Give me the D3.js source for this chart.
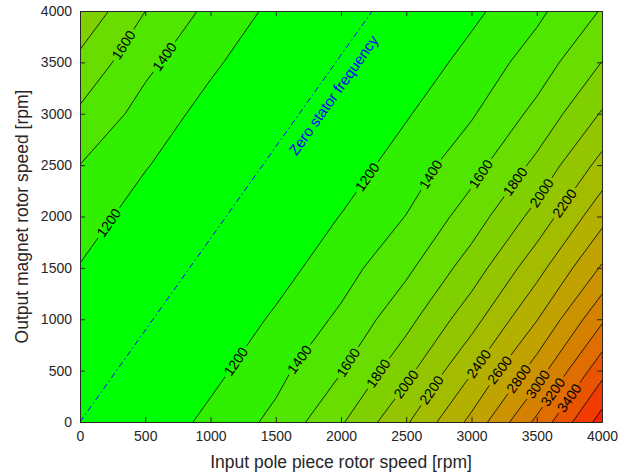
<!DOCTYPE html>
<html><head><meta charset="utf-8">
<script src="https://cdn.jsdelivr.net/npm/d3@7"></script>
<style>
body{margin:0;background:#fff}
svg{display:block}
text{font-family:"Liberation Sans",Arial,Helvetica,sans-serif}
</style>
</head><body>
<svg id="c" width="629" height="475"></svg>
<script>
// ---- data ----
const xTicks = [0,500,1000,1500,2000,2500,3000,3500,4000];
const yTicks = [0,500,1000,1500,2000,2500,3000,3500,4000];
const xGrid = [0,500,1000,1500,2000,2500,3000,3500,4000];
const yGrid = [0,500,1000,1500,2000,2500,3000,3500,4000];
// rows: y = 0 ... 4000 ; columns: x = 0 ... 4000
const zRow0 = [ 990,1055,1253,1450,1776,2174,2653,3246,3890];
const zRow1 = [1017,1009,1142,1341,1589,1940,2381,2897,3533];
const zRow2 = [1079, 995,1045,1230,1438,1736,2122,2590,3167];
const zRow3 = [1190,1027,1004,1119,1317,1557,1894,2324,2824];
const zRow4 = [1301,1103,1001,1034,1206,1405,1695,2070,2533];
const zRow5 = [1398,1214,1038, 999,1095,1293,1524,1849,2267];
const zRow6 = [1568,1325,1126,1006,1024,1182,1380,1654,2017];
const zRow7 = [1749,1449,1238,1048, 994,1071,1269,1492,1804];
const zRow8 = [1955,1601,1349,1150,1011,1014,1154,1356,1614];
const levels = [1200,1400,1600,1800,2000,2200,2400,2600,2800,3000,3200,3400,3600,3800];
const bandColors = ["#00ff00","#30f000","#50e600","#69dc00","#80d000","#93c600","#a4bc00",
  "#b3b000","#c0a300","#cb9300","#d58100","#df6d00","#e95400","#f23b00","#fa2000"];
const labelLevels = [1600,1400,1200, 1200,1400,1600,1800,2000,2200, 1200,1400,1600,1800,2000,2200,2400,2600,2800,3000,3200,3400];
const labelX = [344,637,230, 2205,2702,3072,3327,3531,3722, 1185,1695,2052,2294,2498,2702,3059,3225,3365,3505,3646,3760];
const labelY = [3662,3565,1930, 2381,2397,2414,2348,2236,2122, 597,597,581,467,370,305,564,499,418,370,273,224];
const zeroLineX = [0,2240];
const zeroLineY = [0,4000];
const zeroLabel = "Zero stator frequency";
const zeroLabelX = 1975, zeroLabelY = 3150;
const xTitle = "Input pole piece rotor speed [rpm]";
const yTitle = "Output magnet rotor speed [rpm]";

// ---- drawing ----
const W = 629, H = 475;
const svg = d3.select("#c");
const xs = d3.scaleLinear().domain([xTicks[0], xTicks[xTicks.length-1]]).range([80, 602]);
const ys = d3.scaleLinear().domain([yTicks[0], yTicks[yTicks.length-1]]).range([422, 11]);
const values = [zRow0,zRow1,zRow2,zRow3,zRow4,zRow5,zRow6,zRow7,zRow8].flat();
const nx = xGrid.length, ny = yGrid.length;
const stepX = xGrid[1]-xGrid[0], stepY = yGrid[1]-yGrid[0];
const toPx = (cx, cy) => [xs(xGrid[0] + (cx-0.5)*stepX), ys(yGrid[0] + (cy-0.5)*stepY)];
const path = d3.geoPath(d3.geoTransform({point(x, y){ const p = toPx(x, y); this.stream.point(p[0], p[1]); }}));
const contours = d3.contours().size([nx, ny]).thresholds(levels)(values);

const defs = svg.append("defs");
const px0 = xs.range()[0]+0.5, px1 = xs.range()[1]+0.5, py0 = ys.range()[1]+0.5, py1 = ys.range()[0]+0.5;
defs.append("clipPath").attr("id","plotclip").append("rect")
  .attr("x", px0).attr("y", py0).attr("width", px1-px0).attr("height", py1-py0);
const mask = defs.append("mask").attr("id","lblmask").attr("maskUnits","userSpaceOnUse")
  .attr("x",0).attr("y",0).attr("width",W).attr("height",H);
mask.append("rect").attr("width",W).attr("height",H).attr("fill","white");

const plot = svg.append("g").attr("clip-path","url(#plotclip)");
plot.append("rect").attr("x",px0).attr("y",py0).attr("width",px1-px0).attr("height",py1-py0).attr("fill",bandColors[0]);
plot.append("g").selectAll("path").data(contours).join("path")
  .attr("d", path).attr("fill", (d,i) => bandColors[i+1]).attr("stroke","none");
plot.append("g").attr("mask","url(#lblmask)").selectAll("path").data(contours).join("path")
  .attr("d", path).attr("fill","none").attr("stroke","#000").attr("stroke-width",0.8);

// zero stator frequency line
plot.append("line")
  .attr("x1", xs(zeroLineX[0])).attr("y1", ys(zeroLineY[0]))
  .attr("x2", xs(zeroLineX[1])).attr("y2", ys(zeroLineY[1]))
  .attr("stroke","#0000ff").attr("stroke-width",1).attr("stroke-dasharray","6,3,1.5,3");
const zAng = Math.atan2(ys(zeroLineY[1])-ys(zeroLineY[0]), xs(zeroLineX[1])-xs(zeroLineX[0]))*180/Math.PI;
svg.append("text").text(zeroLabel)
  .attr("transform", `translate(${xs(zeroLabelX)},${ys(zeroLabelY)}) rotate(${zAng})`)
  .attr("text-anchor","middle").attr("font-size",15).attr("fill","#0000ff");

// contour labels
const inside = p => p[0] >= px0-0.5 && p[0] <= px1+0.5 && p[1] >= py0-0.5 && p[1] <= py1+0.5;
const lblG = svg.append("g");
labelLevels.forEach((lv, k) => {
  const ci = levels.indexOf(lv);
  const target = [xs(labelX[k]), ys(labelY[k])];
  let best = null;
  contours[ci].coordinates.forEach(poly => poly.forEach(ring => {
    const pts = ring.map(([cx, cy]) => toPx(cx, cy));
    for (let s = 0; s < pts.length-1; s++) {
      const a = pts[s], b = pts[s+1];
      if (!inside(a) || !inside(b)) continue;
      const vx = b[0]-a[0], vy = b[1]-a[1], L2 = vx*vx+vy*vy;
      if (L2 === 0) continue;
      let t = ((target[0]-a[0])*vx + (target[1]-a[1])*vy)/L2;
      t = Math.max(0, Math.min(1, t));
      const p = [a[0]+t*vx, a[1]+t*vy];
      const dd = (p[0]-target[0])**2 + (p[1]-target[1])**2;
      if (!best || dd < best.dd) best = {dd, p, ang: Math.atan2(vy, vx)*180/Math.PI};
    }
  }));
  if (!best) return;
  let ang = best.ang;
  if (ang > 90) ang -= 180;
  if (ang < -90) ang += 180;
  const tr = `translate(${best.p[0]},${best.p[1]}) rotate(${ang})`;
  const t = lblG.append("text").text(lv).attr("transform", tr)
    .attr("text-anchor","middle").attr("dy","0.35em").attr("font-size",14).attr("fill","#000");
  const len = t.node().getComputedTextLength();
  mask.append("rect").attr("transform", tr)
    .attr("x", -len/2-3).attr("y", -7.5).attr("width", len+6).attr("height", 15).attr("fill","black");
});

// axes
const axisColor = "#262626";
const fmt = d3.format("d");
function styleAxis(g){
  g.attr("font-size",14).attr("font-family","Liberation Sans, Arial, sans-serif").attr("color",axisColor);
  g.selectAll("path,line").attr("stroke",axisColor).attr("stroke-width",1);
}
svg.append("g").attr("transform",`translate(0,${ys.range()[0]})`)
  .call(d3.axisBottom(xs).tickValues(xTicks).tickFormat(fmt).tickSizeInner(-5).tickSizeOuter(0).tickPadding(9)).call(styleAxis);
svg.append("g").attr("transform",`translate(0,${ys.range()[1]})`)
  .call(d3.axisTop(xs).tickValues(xTicks).tickSizeInner(-5).tickSizeOuter(0).tickFormat(() => "")).call(styleAxis);
svg.append("g").attr("transform",`translate(${xs.range()[0]},0)`)
  .call(d3.axisLeft(ys).tickValues(yTicks).tickFormat(fmt).tickSizeInner(-5).tickSizeOuter(0).tickPadding(8)).call(styleAxis);
svg.append("g").attr("transform",`translate(${xs.range()[1]},0)`)
  .call(d3.axisRight(ys).tickValues(yTicks).tickSizeInner(-5).tickSizeOuter(0).tickFormat(() => "")).call(styleAxis);

svg.append("text").text(xTitle)
  .attr("x", (xs.range()[0]+xs.range()[1])/2).attr("y", 468)
  .attr("text-anchor","middle").attr("font-size",17.5).attr("fill",axisColor);
svg.append("text").text(yTitle)
  .attr("transform", `translate(28,${(ys.range()[0]+ys.range()[1])/2}) rotate(-90)`)
  .attr("text-anchor","middle").attr("font-size",17.5).attr("fill",axisColor);
</script>
</body></html>
